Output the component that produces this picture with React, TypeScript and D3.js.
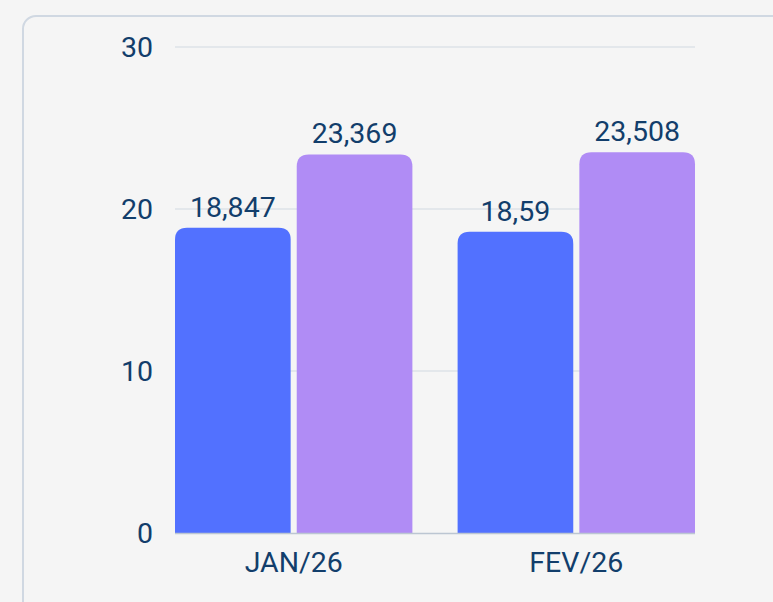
import React, { useEffect, useRef } from "react";
import * as d3 from "d3";

const categories = ["JAN/26", "FEV/26"];
const seriesKeys = ["blue", "purple"];
const blueValues = [18.847, 18.59];
const purpleValues = [23.369, 23.508];
const blueLabels = ["18,847", "18,59"];
const purpleLabels = ["23,369", "23,508"];
const yTicks = [0, 10, 20, 30];

const colors = ["#5271ff", "#b08cf5"];

const App = () => {
  const svgRef = useRef(null);

  useEffect(() => {
    const W = 773;
    const H = 602;
    const svg = d3.select(svgRef.current);
    svg.selectAll("*").remove();

    // page background + card
    svg.append("rect").attr("width", W).attr("height", H).attr("fill", "#f5f5f5");
    svg
      .append("rect")
      .attr("x", 23)
      .attr("y", 16)
      .attr("width", W + 40)
      .attr("height", H + 40)
      .attr("rx", 13)
      .attr("fill", "#f5f5f5")
      .attr("stroke", "#d0d8e2")
      .attr("stroke-width", 2);

    const margin = { top: 47, left: 175, right: 78, bottom: 69 };
    const width = W - margin.left - margin.right;
    const height = H - margin.top - margin.bottom;

    const g = svg.append("g").attr("transform", `translate(${margin.left},${margin.top})`);

    const x0 = d3.scaleBand().domain(categories).range([0, width]).paddingInner(0.16).paddingOuter(0);
    const x1 = d3.scaleBand().domain(seriesKeys).range([0, x0.bandwidth()]).paddingInner(0.05);
    const y = d3.scaleLinear().domain([0, 30]).range([height, 0]);

    const font = "Roboto, 'Noto Sans', sans-serif";
    const weight = 400;
    const fontSize = 28.5;
    const textColor = "#123e6b";

    // grid
    g.append("g")
      .selectAll("line")
      .data(yTicks.filter((t) => t > 0))
      .join("line")
      .attr("x1", 0)
      .attr("x2", width)
      .attr("y1", (d) => y(d))
      .attr("y2", (d) => y(d))
      .attr("stroke", "#d2d9e2")
      .attr("stroke-width", 1.2);

    // y labels
    g.append("g")
      .selectAll("text")
      .data(yTicks)
      .join("text")
      .attr("x", -22)
      .attr("y", (d) => y(d))
      .attr("dy", "0.36em")
      .attr("text-anchor", "end")
      .attr("font-family", font)
      .attr("font-weight", weight)
      .attr("font-size", fontSize)
      .attr("fill", textColor)
      .text((d) => d);

    const rows = categories.map((c, i) => ({
      cat: c,
      vals: [
        { key: "blue", v: blueValues[i], label: blueLabels[i] },
        { key: "purple", v: purpleValues[i], label: purpleLabels[i] },
      ],
    }));

    const r = 12;
    const barPath = (bx, by, bw, bh) => {
      const rr = Math.min(r, bh, bw / 2);
      return `M${bx},${by + bh}V${by + rr}Q${bx},${by} ${bx + rr},${by}H${bx + bw - rr}Q${bx + bw},${by} ${bx + bw},${by + rr}V${by + bh}Z`;
    };

    const grp = g
      .append("g")
      .selectAll("g")
      .data(rows)
      .join("g")
      .attr("transform", (d) => `translate(${x0(d.cat)},0)`);

    grp
      .selectAll("path")
      .data((d) => d.vals)
      .join("path")
      .attr("d", (d) => barPath(x1(d.key), y(d.v), x1.bandwidth(), height - y(d.v)))
      .attr("fill", (d, i) => colors[i]);

    grp
      .selectAll("text")
      .data((d) => d.vals)
      .join("text")
      .attr("x", (d) => x1(d.key) + x1.bandwidth() / 2)
      .attr("y", (d) => y(d.v) - 11)
      .attr("text-anchor", "middle")
      .attr("font-family", font)
      .attr("font-weight", weight)
      .attr("font-size", fontSize)
      .attr("fill", textColor)
      .text((d) => d.label);

    // baseline
    g.append("line")
      .attr("x1", 0)
      .attr("x2", width)
      .attr("y1", height + 0.5)
      .attr("y2", height + 0.5)
      .attr("stroke", "#bcc6d2")
      .attr("stroke-width", 1.5);

    // x labels
    g.append("g")
      .selectAll("text")
      .data(categories)
      .join("text")
      .attr("x", (d) => x0(d) + x0.bandwidth() / 2)
      .attr("y", height + 39)
      .attr("text-anchor", "middle")
      .attr("font-family", font)
      .attr("font-weight", weight)
      .attr("font-size", fontSize)
      .attr("fill", textColor)
      .text((d) => d);
  }, []);

  return (
    <svg
      ref={svgRef}
      width={773}
      height={602}
      style={{ position: "absolute", left: 0, top: 0, display: "block" }}
    />
  );
};

export default App;
